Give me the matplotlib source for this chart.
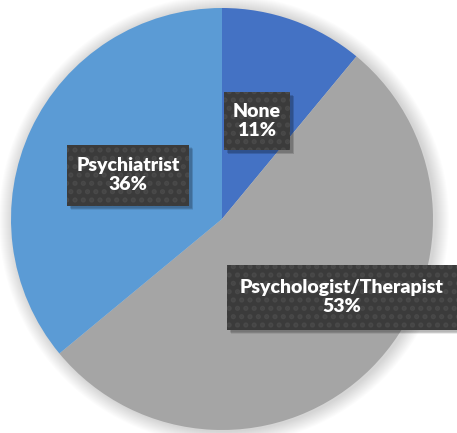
import numpy as np
import matplotlib
matplotlib.use('Agg')
import matplotlib.pyplot as plt
from matplotlib.patches import Circle, Rectangle

labels = ['None', 'Psychologist/Therapist', 'Psychiatrist']
shares = [11, 53, 36]
colors = ['#4472C4', '#A5A5A5', '#5B9BD5']
# label box centres (pixel coords, y down) and box sizes
label_pos = [(257, 121), (342, 297), (128, 175)]
box_size = [(66, 58), (230, 65), (122, 61)]

W, H = 457, 433
fig = plt.figure(figsize=(W / 100, H / 100), dpi=100)
ax = fig.add_axes([0, 0, 1, 1])

cx, cy, R = 222, H - 219, 211

# soft shadow round the pie
for k in range(14, 0, -1):
    ax.add_patch(Circle((cx + 2, cy - 1), R + k, color='#000000',
                        alpha=0.012, lw=0, zorder=0))

ax.pie(shares, colors=colors, startangle=90, counterclock=False,
       center=(cx, cy), radius=R, frame=True,
       wedgeprops=dict(linewidth=0, zorder=1))
ax.set_xlim(0, W)
ax.set_ylim(0, H)
ax.set_aspect('equal')
ax.axis('off')

plt.rcParams['hatch.linewidth'] = 2.5
for lab, val, (px, py), (bw, bh) in zip(labels, shares, label_pos, box_size):
    y = H - py
    x0, y0 = px - bw / 2, y - bh / 2
    # drop shadow
    for k in range(4, 0, -1):
        ax.add_patch(Rectangle((x0 + 2 + k * 0.5, y0 - 2 - k * 0.5), bw, bh,
                               color='black', alpha=0.08, lw=0, zorder=3))
    ax.add_patch(Rectangle((x0, y0), bw, bh, facecolor='#3b3b3b',
                           lw=0, zorder=4))
    ax.add_patch(Rectangle((x0, y0), bw, bh, facecolor='none',
                           edgecolor='#494949', hatch='..', lw=0, zorder=5))
    ax.text(px, y, f'{lab}\n{val}%', ha='center', va='center',
            color='white', fontsize=14, fontweight='heavy', family='Lato',
            linespacing=1.2, zorder=6)

fig.savefig('out.png', dpi=100)
